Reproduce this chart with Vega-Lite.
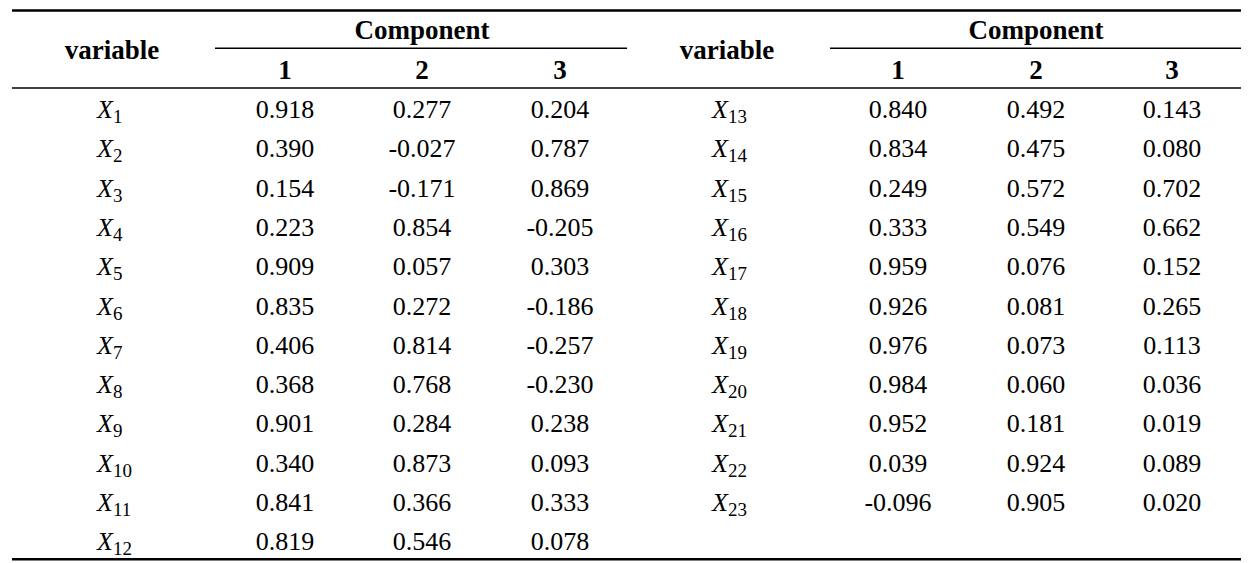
{
  "$schema": "https://vega.github.io/schema/vega-lite/v6.json",
  "width": 1260,
  "height": 563,
  "autosize": {"type": "none"},
  "padding": 0,
  "background": "white",
  "config": {"view": {"stroke": null}},
  "datasets": {
    "vars": [
      {"col": 1, "row": 1, "sub": "1"}, {"col": 1, "row": 2, "sub": "2"}, {"col": 1, "row": 3, "sub": "3"},
      {"col": 1, "row": 4, "sub": "4"}, {"col": 1, "row": 5, "sub": "5"}, {"col": 1, "row": 6, "sub": "6"},
      {"col": 1, "row": 7, "sub": "7"}, {"col": 1, "row": 8, "sub": "8"}, {"col": 1, "row": 9, "sub": "9"},
      {"col": 1, "row": 10, "sub": "10"}, {"col": 1, "row": 11, "sub": "11"}, {"col": 1, "row": 12, "sub": "12"},
      {"col": 5, "row": 1, "sub": "13"}, {"col": 5, "row": 2, "sub": "14"}, {"col": 5, "row": 3, "sub": "15"},
      {"col": 5, "row": 4, "sub": "16"}, {"col": 5, "row": 5, "sub": "17"}, {"col": 5, "row": 6, "sub": "18"},
      {"col": 5, "row": 7, "sub": "19"}, {"col": 5, "row": 8, "sub": "20"}, {"col": 5, "row": 9, "sub": "21"},
      {"col": 5, "row": 10, "sub": "22"}, {"col": 5, "row": 11, "sub": "23"}
    ],
    "cells": [
      {"col": 2, "row": 1, "v": "0.918"}, {"col": 3, "row": 1, "v": "0.277"}, {"col": 4, "row": 1, "v": "0.204"},
      {"col": 2, "row": 2, "v": "0.390"}, {"col": 3, "row": 2, "v": "-0.027"}, {"col": 4, "row": 2, "v": "0.787"},
      {"col": 2, "row": 3, "v": "0.154"}, {"col": 3, "row": 3, "v": "-0.171"}, {"col": 4, "row": 3, "v": "0.869"},
      {"col": 2, "row": 4, "v": "0.223"}, {"col": 3, "row": 4, "v": "0.854"}, {"col": 4, "row": 4, "v": "-0.205"},
      {"col": 2, "row": 5, "v": "0.909"}, {"col": 3, "row": 5, "v": "0.057"}, {"col": 4, "row": 5, "v": "0.303"},
      {"col": 2, "row": 6, "v": "0.835"}, {"col": 3, "row": 6, "v": "0.272"}, {"col": 4, "row": 6, "v": "-0.186"},
      {"col": 2, "row": 7, "v": "0.406"}, {"col": 3, "row": 7, "v": "0.814"}, {"col": 4, "row": 7, "v": "-0.257"},
      {"col": 2, "row": 8, "v": "0.368"}, {"col": 3, "row": 8, "v": "0.768"}, {"col": 4, "row": 8, "v": "-0.230"},
      {"col": 2, "row": 9, "v": "0.901"}, {"col": 3, "row": 9, "v": "0.284"}, {"col": 4, "row": 9, "v": "0.238"},
      {"col": 2, "row": 10, "v": "0.340"}, {"col": 3, "row": 10, "v": "0.873"}, {"col": 4, "row": 10, "v": "0.093"},
      {"col": 2, "row": 11, "v": "0.841"}, {"col": 3, "row": 11, "v": "0.366"}, {"col": 4, "row": 11, "v": "0.333"},
      {"col": 2, "row": 12, "v": "0.819"}, {"col": 3, "row": 12, "v": "0.546"}, {"col": 4, "row": 12, "v": "0.078"},
      {"col": 6, "row": 1, "v": "0.840"}, {"col": 7, "row": 1, "v": "0.492"}, {"col": 8, "row": 1, "v": "0.143"},
      {"col": 6, "row": 2, "v": "0.834"}, {"col": 7, "row": 2, "v": "0.475"}, {"col": 8, "row": 2, "v": "0.080"},
      {"col": 6, "row": 3, "v": "0.249"}, {"col": 7, "row": 3, "v": "0.572"}, {"col": 8, "row": 3, "v": "0.702"},
      {"col": 6, "row": 4, "v": "0.333"}, {"col": 7, "row": 4, "v": "0.549"}, {"col": 8, "row": 4, "v": "0.662"},
      {"col": 6, "row": 5, "v": "0.959"}, {"col": 7, "row": 5, "v": "0.076"}, {"col": 8, "row": 5, "v": "0.152"},
      {"col": 6, "row": 6, "v": "0.926"}, {"col": 7, "row": 6, "v": "0.081"}, {"col": 8, "row": 6, "v": "0.265"},
      {"col": 6, "row": 7, "v": "0.976"}, {"col": 7, "row": 7, "v": "0.073"}, {"col": 8, "row": 7, "v": "0.113"},
      {"col": 6, "row": 8, "v": "0.984"}, {"col": 7, "row": 8, "v": "0.060"}, {"col": 8, "row": 8, "v": "0.036"},
      {"col": 6, "row": 9, "v": "0.952"}, {"col": 7, "row": 9, "v": "0.181"}, {"col": 8, "row": 9, "v": "0.019"},
      {"col": 6, "row": 10, "v": "0.039"}, {"col": 7, "row": 10, "v": "0.924"}, {"col": 8, "row": 10, "v": "0.089"},
      {"col": 6, "row": 11, "v": "-0.096"}, {"col": 7, "row": 11, "v": "0.905"}, {"col": 8, "row": 11, "v": "0.020"}
    ],
    "headers": [
      {"col": 1, "row": -0.5, "t": "variable"}, {"col": 5, "row": -0.5, "t": "variable"},
      {"col": 3, "row": -1, "t": "Component"}, {"col": 7, "row": -1, "t": "Component"},
      {"col": 2, "row": 0, "t": "1"}, {"col": 3, "row": 0, "t": "2"}, {"col": 4, "row": 0, "t": "3"},
      {"col": 6, "row": 0, "t": "1"}, {"col": 7, "row": 0, "t": "2"}, {"col": 8, "row": 0, "t": "3"}
    ],
    "thickRules": [
      {"from": 0, "to": 9, "row": -1.53},
      {"from": 0, "to": 9, "row": 12.43}
    ],
    "thinRules": [
      {"from": 1.5, "to": 4.5, "row": -0.57},
      {"from": 5.5, "to": 9, "row": -0.57},
      {"from": 0, "to": 9, "row": 0.44}
    ]
  },
  "layer": [
    {
      "data": {"name": "thickRules"},
      "mark": {"type": "rule", "stroke": "black", "strokeWidth": 2.5},
      "encoding": {
        "x": {"field": "from", "type": "quantitative", "axis": null,
              "scale": {"domain": [0, 1, 1.5, 2, 3, 4, 4.5, 5, 5.5, 6, 7, 8, 9], "range": [12, 112, 215, 285, 422, 560, 627, 727, 830, 898, 1036, 1172, 1241], "zero": false, "nice": false}},
        "x2": {"field": "to"},
        "y": {"field": "row", "type": "quantitative", "axis": null,
              "scale": {"domain": [1, 12], "range": [110, 542.3], "zero": false, "nice": false}}
      }
    },
    {
      "data": {"name": "thinRules"},
      "mark": {"type": "rule", "stroke": "black", "strokeWidth": 1.4},
      "encoding": {
        "x": {"field": "from", "type": "quantitative", "axis": null},
        "x2": {"field": "to"},
        "y": {"field": "row", "type": "quantitative", "axis": null}
      }
    },
    {
      "data": {"name": "headers"},
      "mark": {"type": "text", "font": "Liberation Serif", "fontWeight": "bold", "fontSize": 27, "baseline": "middle", "align": "center", "color": "black"},
      "encoding": {
        "x": {"field": "col", "type": "quantitative", "axis": null},
        "y": {"field": "row", "type": "quantitative", "axis": null},
        "text": {"field": "t"}
      }
    },
    {
      "data": {"name": "cells"},
      "mark": {"type": "text", "font": "Liberation Serif", "fontSize": 26, "baseline": "middle", "align": "center", "color": "black"},
      "encoding": {
        "x": {"field": "col", "type": "quantitative", "axis": null},
        "y": {"field": "row", "type": "quantitative", "axis": null},
        "text": {"field": "v"}
      }
    },
    {
      "data": {"name": "vars"},
      "mark": {"type": "text", "text": "X", "font": "Liberation Serif", "fontStyle": "italic", "fontSize": 26, "baseline": "middle", "align": "right", "dx": 1, "color": "black"},
      "encoding": {
        "x": {"field": "col", "type": "quantitative", "axis": null},
        "y": {"field": "row", "type": "quantitative", "axis": null}
      }
    },
    {
      "data": {"name": "vars"},
      "mark": {"type": "text", "font": "Liberation Serif", "fontSize": 19, "baseline": "middle", "align": "left", "dx": 1, "dy": 7, "color": "black"},
      "encoding": {
        "x": {"field": "col", "type": "quantitative", "axis": null},
        "y": {"field": "row", "type": "quantitative", "axis": null},
        "text": {"field": "sub"}
      }
    }
  ]
}
